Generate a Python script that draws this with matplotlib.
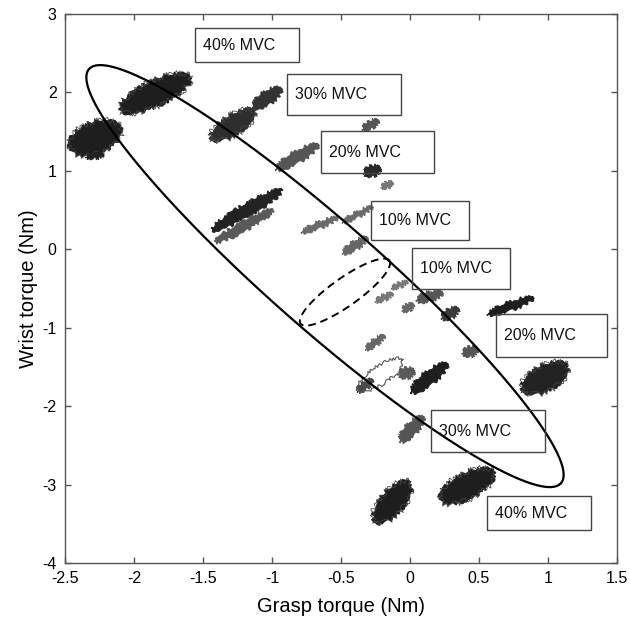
import numpy as np
import matplotlib
matplotlib.use("Agg")
import matplotlib.pyplot as plt
from matplotlib.patches import Rectangle

plt.rcParams['font.family'] = ['Liberation Sans', 'DejaVu Sans']
plt.rcParams['axes.unicode_minus'] = False

# clusters of grasp / wrist torque traces: start and end of each blob (Nm)
blob_x0 = [-2.47, -2.341, -2.101, -1.442, -1.138, -0.971, -1.435, -1.413, -0.783, -0.486,
           -0.486, -0.333, -0.203, -0.341, -0.130, -0.246, 0.051, -0.051, 0.232, 0.565,
           -0.319, 0.384, -0.377, -0.080, 0.007, 0.812, -0.072, -0.254, 0.217]
blob_y0 = [1.291, 1.176, 1.776, 1.406, 1.814, 1.023, 0.245, 0.092, 0.219, 0.347,
           -0.048, 0.972, 0.793, 1.533, -0.495, -0.661, -0.648, -0.776, -0.878, -0.827,
           -1.273, -1.324, -1.809, -1.592, -1.821, -1.796, -2.446, -3.480, -3.199]
blob_x1 = [-2.094, -2.225, -1.594, -1.123, -0.935, -0.667, -0.928, -0.993, -0.529, -0.275,
           -0.312, -0.217, -0.130, -0.232, -0.022, -0.130, 0.232, 0.022, 0.348, 0.891,
           -0.188, 0.486, -0.275, 0.029, 0.268, 1.145, 0.094, 0.000, 0.609]
blob_y1 = [1.546, 1.202, 2.196, 1.763, 2.043, 1.329, 0.755, 0.500, 0.398, 0.538,
           0.143, 1.023, 0.844, 1.635, -0.418, -0.571, -0.559, -0.712, -0.763, -0.622,
           -1.107, -1.286, -1.668, -1.566, -1.464, -1.490, -2.140, -2.969, -2.842]
blob_w = [32, 5, 26, 20, 14, 12, 13, 10, 7, 6,
          9, 11, 6, 8, 5, 6, 10, 7, 10, 9,
          7, 10, 8, 11, 14, 26, 13, 24, 26]
blob_c = ['#1e1e1e', '#222222', '#1e1e1e', '#2e2e2e', '#333333', '#555555', '#222222', '#595959', '#6a6a6a', '#6a6a6a',
          '#666666', '#2a2a2a', '#777777', '#555555', '#7a7a7a', '#777777', '#555555', '#666666', '#3a3a3a', '#1e1e1e',
          '#666666', '#555555', '#4a4a4a', '#5a5a5a', '#1e1e1e', '#222222', '#555555', '#1e1e1e', '#1e1e1e']

# open trace near (-0.2, -1.6)
open_x = [-0.377, -0.058]
open_y = [-1.796, -1.413]

# outer ellipse (centre and two conjugate half axes) and dashed section
ell_c = (-0.616, -0.342)
ell_u = (1.710, -2.640)
ell_v = (0.258, 0.518)
sec_c = (-0.471, -0.546)
sec_u = (0.322, 0.402)
sec_v = (0.0587, -0.145)

box_labels = ['40% MVC', '30% MVC', '20% MVC', '10% MVC', '10% MVC', '20% MVC', '30% MVC', '40% MVC']
box_x0 = [-1.558, -0.891, -0.645, -0.283, 0.014, 0.623, 0.152, 0.558]
box_x1 = [-0.804, -0.065, 0.174, 0.428, 0.725, 1.428, 0.978, 1.312]
box_y0 = [2.388, 1.712, 0.972, 0.117, -0.508, -1.375, -2.587, -3.582]
box_y1 = [2.820, 2.235, 1.508, 0.615, 0.015, -0.827, -2.050, -3.148]

xticks = [-2.5, -2, -1.5, -1, -0.5, 0, 0.5, 1, 1.5]
xticklabels = ['-2.5', '-2', '-1.5', '-1', '-0.5', '0', '0.5', '1', '1.5']
yticks = [-4, -3, -2, -1, 0, 1, 2, 3]

fig = plt.figure(figsize=(6.3, 6.21), dpi=100)
ax = fig.add_axes([65/630, 58/621, 552/630, 549/621])
ax.set_xlim(-2.5, 1.5)
ax.set_ylim(-4, 3)

# pixels per data unit, to give the blobs a width in pixels
px_x = 552 / 4.0
px_y = 549 / 7.0
t = np.linspace(0, 2*np.pi, 80)


def blob(x0, y0, x1, y1, w, c, fill=True):
    cx, cy = (x0+x1)/2, (y0+y1)/2
    ux, uy = (x1-x0)/2*px_x, (y1-y0)/2*px_y
    L = np.hypot(ux, uy)
    vx, vy = -uy/L*w/2, ux/L*w/2
    xs = cx + (ux*np.cos(t) + vx*np.sin(t))/px_x
    ys = cy + (uy*np.cos(t) + vy*np.sin(t))/px_y
    if fill:
        p = ax.fill(xs, ys, facecolor=c, edgecolor=c, lw=0.8, zorder=2, clip_on=True)[0]
        p.set_sketch_params(scale=1.6, length=3, randomness=8)
        if w >= 18:
            ln = ax.plot(xs, ys, color='#444444', lw=0.6, zorder=2)[0]
            ln.set_sketch_params(scale=3, length=4, randomness=12)
    else:
        ln = ax.plot(xs, ys, color='#555555', lw=0.8, zorder=2)[0]
        ln.set_sketch_params(scale=1.5, length=3, randomness=10)


for i in range(len(blob_x0)):
    blob(blob_x0[i], blob_y0[i], blob_x1[i], blob_y1[i], blob_w[i], blob_c[i])
blob(open_x[0], open_y[0], open_x[1], open_y[1], 18, None, fill=False)

tt = np.linspace(0, 2*np.pi, 400)
ax.plot(ell_c[0] + ell_u[0]*np.cos(tt) + ell_v[0]*np.sin(tt),
        ell_c[1] + ell_u[1]*np.cos(tt) + ell_v[1]*np.sin(tt),
        color='black', lw=1.6, zorder=3)
ax.plot(sec_c[0] + sec_u[0]*np.cos(tt) + sec_v[0]*np.sin(tt),
        sec_c[1] + sec_u[1]*np.cos(tt) + sec_v[1]*np.sin(tt),
        color='black', lw=1.4, ls=(0, (4, 2.5)), zorder=3)

for i in range(len(box_labels)):
    ax.add_patch(Rectangle((box_x0[i], box_y0[i]), box_x1[i]-box_x0[i], box_y1[i]-box_y0[i],
                           facecolor='none', edgecolor='#444444', lw=1.0, zorder=4))
    ax.text(box_x0[i] + 0.06, (box_y0[i]+box_y1[i])/2, box_labels[i],
            fontsize=11.5, ha='left', va='center', color='#111111', zorder=5)

ax.set_xticks(xticks)
ax.set_xticklabels(xticklabels)
ax.set_yticks(yticks)
ax.set_yticklabels([str(v) for v in yticks])
ax.tick_params(direction='in', top=True, right=True, length=4, width=1,
               color='#555555', labelsize=11.5, pad=6)
for s in ax.spines.values():
    s.set_color('#555555')
    s.set_linewidth(1.0)

ax.set_xlabel('Grasp torque (Nm)', fontsize=14.5, labelpad=8)
ax.set_ylabel('Wrist torque (Nm)', fontsize=14.5, labelpad=3)

fig.savefig('out.png', dpi=100)
